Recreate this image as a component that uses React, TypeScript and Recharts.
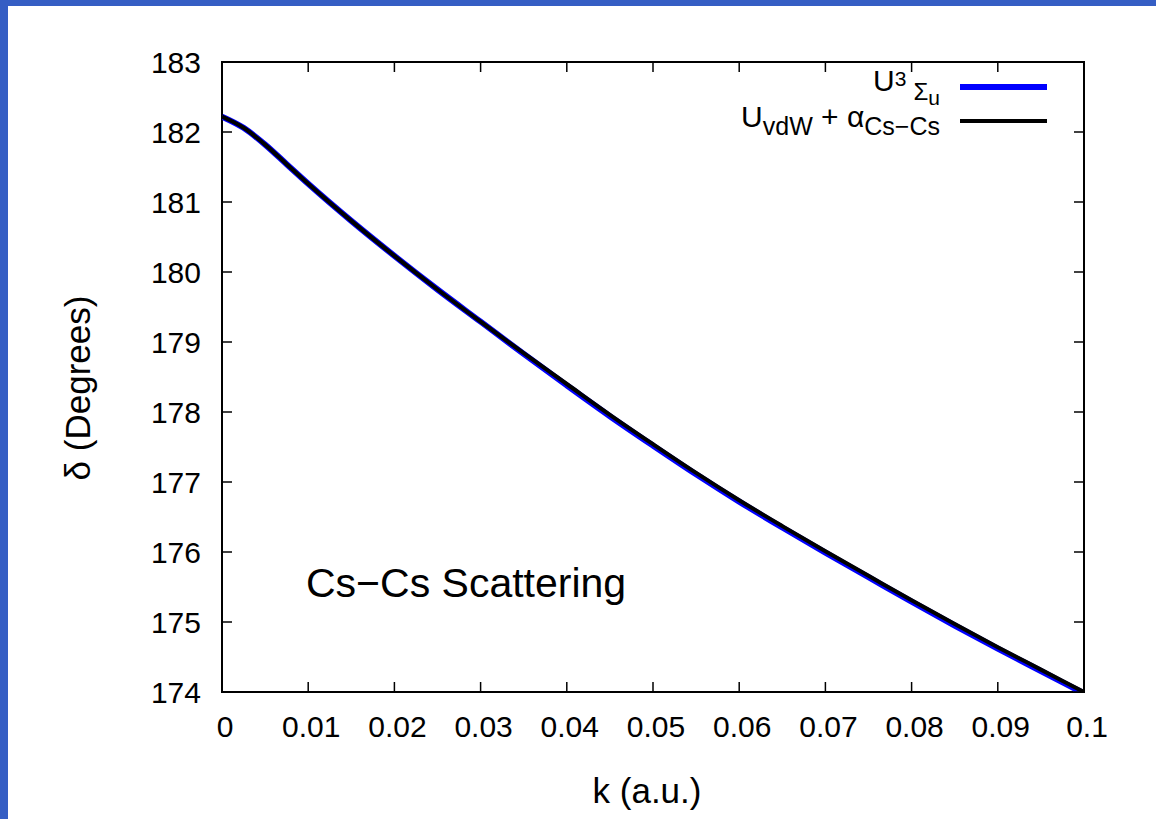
import { LineChart, Line, XAxis, YAxis, ReferenceArea } from 'recharts';

// k (a.u.)
const kValues = [
  0, 0.0025, 0.005, 0.0075, 0.01, 0.015, 0.02, 0.025, 0.03, 0.035, 0.04, 0.045, 0.05, 0.055,
  0.06, 0.065, 0.07, 0.075, 0.08, 0.085, 0.09, 0.095, 0.1,
];
// phase shift, U 3Sigma_u potential (blue)
const deltaSigma = [
  182.22, 182.06, 181.82, 181.54, 181.26, 180.73, 180.23, 179.75, 179.29, 178.83, 178.38, 177.94,
  177.52, 177.11, 176.72, 176.35, 175.99, 175.64, 175.29, 174.95, 174.62, 174.3, 173.98,
];
// phase shift, U_vdW + alpha (black)
const deltaVdw = [
  182.22, 182.06, 181.82, 181.54, 181.26, 180.73, 180.23, 179.75, 179.29, 178.84, 178.4, 177.96,
  177.54, 177.13, 176.74, 176.37, 176.01, 175.66, 175.31, 174.97, 174.64, 174.32, 174.0,
];

const xTicks = [0, 0.01, 0.02, 0.03, 0.04, 0.05, 0.06, 0.07, 0.08, 0.09, 0.1];
const yTicks = [174, 175, 176, 177, 178, 179, 180, 181, 182, 183];

const data = kValues.map((k, i) => ({ k, sigma: deltaSigma[i], vdw: deltaVdw[i] }));

const W = 1156;
const H = 819;
const PLOT_TOP = 62;
const PLOT_LEFT = 222;
const PLOT_RIGHT = 1084;
const PLOT_BOTTOM = 692;
const TICK = 10;
const FONT = '"Liberation Sans", Arial, Helvetica, sans-serif';

const XTick = (props: any) => {
  const { x, y, payload } = props;
  return (
    <g>
      <line x1={x} x2={x} y1={PLOT_BOTTOM} y2={PLOT_BOTTOM - TICK} stroke="#000" strokeWidth={1.5} />
      <line x1={x} x2={x} y1={PLOT_TOP} y2={PLOT_TOP + TICK} stroke="#000" strokeWidth={1.5} />
      <text x={x + 3} y={y + 45} textAnchor="middle" fontSize={30} fontFamily={FONT} fill="#000">
        {String(payload.value)}
      </text>
    </g>
  );
};

const YTick = (props: any) => {
  const { y, payload } = props;
  return (
    <g>
      <line x1={PLOT_LEFT} x2={PLOT_LEFT + TICK} y1={y} y2={y} stroke="#000" strokeWidth={1.5} />
      <line x1={PLOT_RIGHT - TICK} x2={PLOT_RIGHT} y1={y} y2={y} stroke="#000" strokeWidth={1.5} />
      <text x={201} y={y + 11} textAnchor="end" fontSize={30} fontFamily={FONT} fill="#000">
        {String(payload.value)}
      </text>
    </g>
  );
};

export default function App() {
  return (
    <div style={{ position: 'absolute', left: 0, top: 0, width: W, height: H, background: '#355ec4', fontFamily: FONT }}>
      <div style={{ position: 'absolute', left: 8, top: 6, right: 0, bottom: 0, background: '#fff' }} />
      <div style={{ position: 'absolute', left: 0, top: 0 }}>
        <LineChart width={W} height={H} data={data} margin={{ top: PLOT_TOP, right: W - PLOT_RIGHT, bottom: 0, left: 0 }}>
          <XAxis
            dataKey="k"
            type="number"
            domain={[0, 0.1]}
            ticks={xTicks}
            height={H - PLOT_BOTTOM}
            tickSize={0}
            tickMargin={0}
            tickLine={false}
            tick={<XTick />}
            axisLine={false}
            interval={0}
            allowDataOverflow
          />
          <YAxis
            type="number"
            domain={[174, 183]}
            ticks={yTicks}
            width={PLOT_LEFT}
            tickSize={0}
            tickMargin={0}
            tickLine={false}
            tick={<YTick />}
            axisLine={false}
            interval={0}
            allowDataOverflow
          />
          <ReferenceArea x1={0} x2={0.1} y1={174} y2={183} fill="none" fillOpacity={0} stroke="#000" strokeWidth={2} ifOverflow="visible" />
          <Line
            type="monotone"
            dataKey="sigma"
            stroke="#0000ff"
            strokeWidth={6}
            dot={false}
            isAnimationActive={false}
          />
          <Line
            type="monotone"
            dataKey="vdw"
            stroke="#000000"
            strokeWidth={4}
            dot={false}
            isAnimationActive={false}
          />
        </LineChart>
      </div>

      {/* legend */}
      <div style={{ position: 'absolute', right: W - 940, top: 66, whiteSpace: 'nowrap', color: '#000', lineHeight: 1 }}>
        <span style={{ fontSize: 30 }}>U</span>
        <span style={{ fontSize: 21, position: 'relative', top: -5 }}>3</span>
        <span style={{ fontSize: 24, position: 'relative', top: 9, marginLeft: 7 }}>Σ</span>
        <span style={{ fontSize: 21, position: 'relative', top: 14 }}>u</span>
      </div>
      <div style={{ position: 'absolute', left: 960, top: 84, width: 87, height: 6, background: '#0000ff' }} />
      <div style={{ position: 'absolute', right: W - 940, top: 102, whiteSpace: 'nowrap', color: '#000', lineHeight: 1 }}>
        <span style={{ fontSize: 30 }}>U</span>
        <span style={{ fontSize: 25, position: 'relative', top: 8 }}>vdW</span>
        <span style={{ fontSize: 30 }}> + α</span>
        <span style={{ fontSize: 25, position: 'relative', top: 8 }}>Cs−Cs</span>
      </div>
      <div style={{ position: 'absolute', left: 960, top: 119, width: 87, height: 4, background: '#000' }} />

      {/* annotation */}
      <div style={{ position: 'absolute', left: 306, top: 563, fontSize: 41, color: '#000', whiteSpace: 'nowrap', lineHeight: 1 }}>
        Cs−Cs Scattering
      </div>

      {/* axis titles */}
      <div
        style={{
          position: 'absolute',
          left: 77,
          top: 388,
          transform: 'translate(-50%, -50%) rotate(-90deg)',
          fontSize: 35,
          whiteSpace: 'nowrap',
          color: '#000',
          lineHeight: 1,
        }}
      >
        δ (Degrees)
      </div>
      <div
        style={{
          position: 'absolute',
          left: 647,
          top: 790,
          transform: 'translate(-50%, -50%)',
          fontSize: 35,
          whiteSpace: 'nowrap',
          color: '#000',
          lineHeight: 1,
        }}
      >
        k (a.u.)
      </div>
    </div>
  );
}
